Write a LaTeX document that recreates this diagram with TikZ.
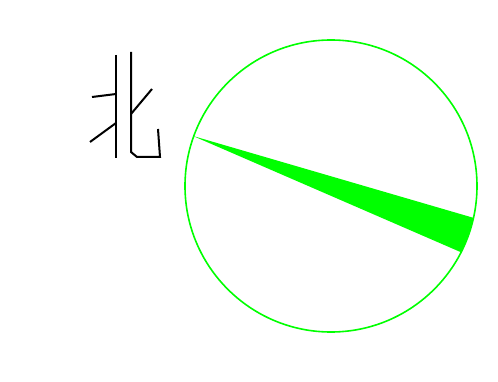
\documentclass[tikz,border=0pt]{standalone}
\usetikzlibrary{calc}
\definecolor{lime}{RGB}{0,255,0}
\begin{document}
\begin{tikzpicture}[x=1pt,y=-1pt,
  stroke/.style={line width=2pt,black},
  ring/.style={draw=lime,line width=1.6pt},
  wedge/.style={fill=lime,draw=none}]
\useasboundingbox (0,0) rectangle (498,382);
\coordinate (c) at (331,186);
% wedge
\fill[wedge] (193,136) -- ($(c)+(12.6:146)$) arc (12.6:27:146) -- cycle;
\draw[ring] (c) circle (146);
% character strokes
\draw[stroke] (116,55) -- (116,158);
\draw[stroke] (92,97) -- (116,94);
\draw[stroke] (90,142) -- (116,123);
\draw[stroke] (131,52) -- (131,152) -- (137,157) -- (160,157) -- (158,129);
\draw[stroke] (131,114) -- (152,89);
\end{tikzpicture}
\end{document}
